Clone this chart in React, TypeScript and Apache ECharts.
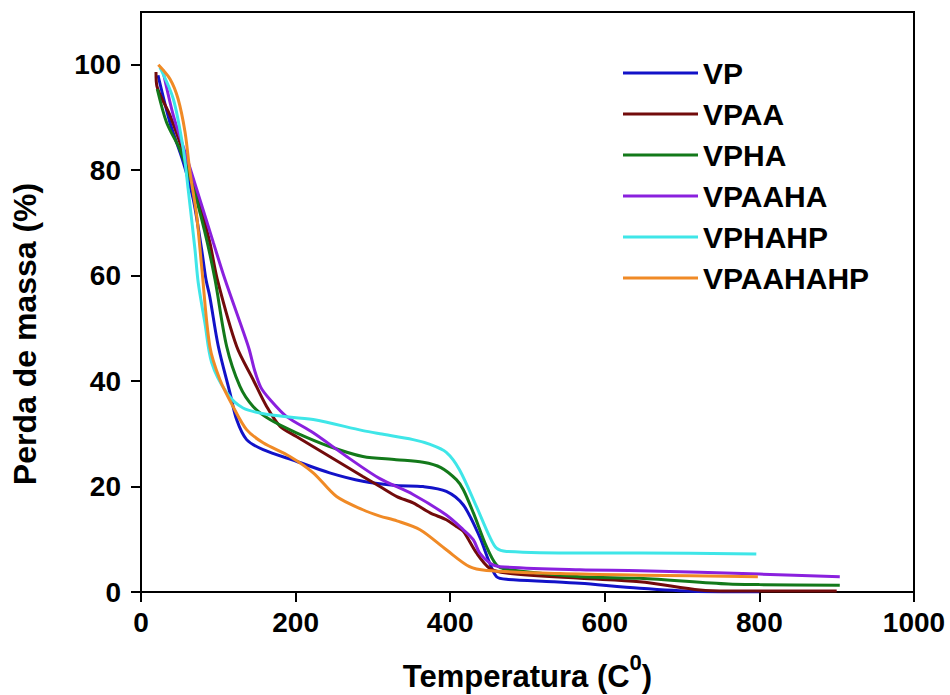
import React, { useEffect, useRef } from "react";
import * as echarts from "echarts";

const seriesNames = ["VP", "VPAA", "VPHA", "VPAAHA", "VPHAHP", "VPAAHAHP"];
const seriesColors = ["#1212C8", "#720B0B", "#13791A", "#8A20DE", "#3FE6E8", "#F08A26"];

const vpData: [number, number][] = [
  [22, 98], [37.5, 89], [54.7, 81.5], [67.6, 74.5], [78.4, 65], [84, 59.3], [89, 56], [100, 46.6],
  [115, 37.8], [123.7, 32.7], [136.6, 28.9], [158, 27], [201, 24.8], [244, 22.6], [287, 21],
  [330, 20.2], [365, 20], [395, 19.1], [417, 16.5], [438, 10.5], [451, 5.5], [460, 2.9], [473, 2.4],
  [533, 1.96], [568, 1.65], [645, 0.7], [720, 0.1], [800, 0],
];
const vpaaData: [number, number][] = [
  [19.4, 98.6], [20.5, 96], [37.5, 90.4], [54.7, 83.4], [72, 75.8], [89, 66.3], [98.7, 59.3],
  [123.7, 46.6], [145, 40.3], [162.5, 35.2], [180, 31.4], [201, 29.5], [244, 25.7], [287, 21.9],
  [309, 20], [331, 18.1], [352, 16.9], [374, 15], [395, 13.7], [408, 12.4], [417, 11.5], [434, 7.4],
  [451, 4.5], [473, 3.6], [568, 2.6], [645, 1.96], [723, 0.4], [760, 0.2], [900, 0.2],
];
const vphaData: [number, number][] = [
  [21, 95.4], [33, 89.1], [50, 84], [65.5, 77.7], [82.7, 68.2], [95.7, 59.3], [110.8, 46.6],
  [128, 39], [145, 35.2], [166.8, 32.7], [201, 30.2], [244, 27.6], [287, 25.7], [330, 25.1],
  [365, 24.6], [388, 23.6], [408, 21.3], [417, 19.4], [430, 15], [447, 8.6], [460, 5.1], [473, 4.3],
  [568, 2.9], [645, 2.6], [760, 1.5], [800, 1.4], [904, 1.3],
];
const vpaahaData: [number, number][] = [
  [28, 99.1], [41.8, 90.4], [57, 83.4], [72, 76.4], [93.5, 66.3], [108.6, 59.3], [132, 49.5],
  [140, 46], [147, 42], [155, 38.8], [166.8, 36.5], [188, 33.3], [222.8, 30.2], [266, 25.7], [309, 21.5],
  [352, 18.5], [395, 14.6], [417, 11.8], [430, 9.9], [438, 7.4], [451, 5.5], [464, 4.8], [568, 4.2],
  [645, 4.05], [800, 3.4], [904, 2.9],
];
const vphahpData: [number, number][] = [
  [24.5, 99.5], [41.8, 93.5], [54.7, 84], [61, 76.4], [69.8, 65], [74, 58.7], [82.7, 51], [91.4, 43.5],
  [110.8, 37.8], [132, 34.9], [166.8, 33.6], [222.8, 32.7], [287, 30.6], [309, 30], [352, 28.9],
  [374, 28], [395, 26.5], [412, 23.2], [434, 16.2], [451, 10.5], [460, 8.3], [473, 7.7], [568, 7.4],
  [645, 7.4], [796, 7.2],
];
const vpaahahpData: [number, number][] = [
  [22.4, 100], [37.5, 97.3], [48, 93.5], [57, 87.2], [63.4, 79.6], [72, 71.4], [78.4, 61.8], [89, 46.6],
  [102, 40.3], [119, 35.2], [136.6, 30.8], [158, 28.3], [192.6, 25.7], [222.8, 22.6], [253, 18.1],
  [287, 15.6], [309, 14.4], [331, 13.5], [361, 11.8], [395, 8], [425, 4.8], [447, 4.1], [542, 3.5],
  [645, 3.2], [798, 2.9],
];
const allData = [vpData, vpaaData, vphaData, vpaahaData, vphahpData, vpaahahpData];

const yTicks = [0, 20, 40, 60, 80, 100];
const xTicks = [0, 200, 400, 600, 800, 1000];

const FONT = "'Liberation Sans', Arial, sans-serif";

export default function App() {
  const ref = useRef<HTMLDivElement>(null);
  useEffect(() => {
    if (!ref.current) return;
    const chart = echarts.init(ref.current, undefined, { renderer: "svg" });
    chart.setOption({
      animation: false,
      backgroundColor: "#fff",
      textStyle: { fontFamily: FONT },
      grid: {
        left: 141, right: 36, top: 12, bottom: 103,
        show: true, borderColor: "#000", borderWidth: 2,
        outerBoundsMode: "none",
      },
      legend: {
        orient: "vertical",
        left: 618,
        top: 53,
        itemWidth: 75,
        itemHeight: 3,
        itemGap: 11,
        icon: "rect",
        selectedMode: false,
        data: seriesNames,
        textStyle: { fontSize: 30, fontWeight: "bold", color: "#000", lineHeight: 30, fontFamily: FONT },
      },
      xAxis: {
        type: "value",
        min: 0, max: 1000, interval: 200,
        name: "Temperatura (C{sup|0})",
        nameLocation: "middle",
        nameGap: 59,
        nameTextStyle: {
          fontSize: 31, fontWeight: "bold", color: "#000", fontFamily: FONT, lineHeight: 50,
          rich: { sup: { fontSize: 22, lineHeight: 22, fontWeight: "bold", color: "#000", verticalAlign: "top", fontFamily: FONT } },
        },
        axisLine: { lineStyle: { color: "#000", width: 2 } },
        axisTick: { inside: false, length: 10, lineStyle: { color: "#000", width: 2 }, customValues: xTicks },
        axisLabel: {
          fontSize: 28, fontWeight: "bold", color: "#000", margin: 16, fontFamily: FONT, customValues: xTicks,
          formatter: (v: number) => String(v),
        },
        splitLine: { show: false },
      },
      yAxis: {
        type: "value",
        min: 0, max: 110, interval: 20,
        name: "Perda de massa (%)",
        nameLocation: "middle",
        nameGap: 100,
        nameTextStyle: { fontSize: 32, fontWeight: "bold", color: "#000", fontFamily: FONT, padding: [0, 64, 0, 0] },
        axisLine: { lineStyle: { color: "#000", width: 2 } },
        axisTick: { inside: false, length: 10, lineStyle: { color: "#000", width: 2 }, customValues: yTicks },
        axisLabel: {
          fontSize: 28, fontWeight: "bold", color: "#000", margin: 20, fontFamily: FONT, customValues: yTicks,
          formatter: (v: number) => String(v),
        },
        splitLine: { show: false },
      },
      series: seriesNames.map((name, i) => ({
        name,
        type: "line",
        data: allData[i],
        smooth: 0.3,
        showSymbol: false,
        symbol: "none",
        color: seriesColors[i],
        lineStyle: { width: 3, color: seriesColors[i] },
      })),
    });
    return () => chart.dispose();
  }, []);
  return <div ref={ref} style={{ position: "absolute", left: 0, top: 0, width: 950, height: 695 }} />;
}
